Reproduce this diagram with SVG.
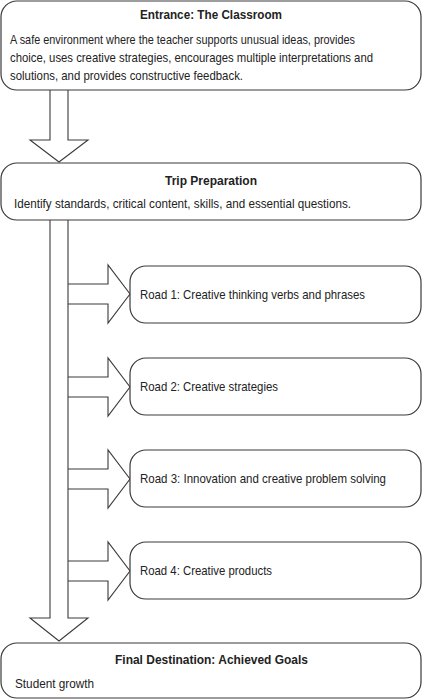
<svg xmlns="http://www.w3.org/2000/svg" width="423" height="700" viewBox="0 0 423 700">
<style>
.box{fill:#fff;stroke:#3a3a3a;stroke-width:1.2}
.arr{fill:none;stroke:#3a3a3a;stroke-width:1.1;stroke-linejoin:miter}
text{font-family:"Liberation Sans",Arial,sans-serif;font-size:13.5px;fill:#222}
.t{font-weight:bold;font-size:13px}
</style>
<rect width="423" height="700" fill="#fff"/>
<g id="connectors">
<path class="arr" d="M50,90 V140 H30 L59,162 L88,140 H68 V90"/>
<path class="arr" d="M50,220 V618 H30 L59,641 L88,618 H68 V220"/>
<path class="arr" d="M68,284 H108 V265 L130,294 L108,323 V304 H68"/>
<path class="arr" d="M68,377 H108 V358 L130,387 L108,416 V397 H68"/>
<path class="arr" d="M68,469 H108 V450 L130,479 L108,508 V489 H68"/>
<path class="arr" d="M68,561 H108 V542 L130,571 L108,600 V581 H68"/>
</g>
<g id="entrance">
<rect class="box" x="1" y="1" width="420" height="89" rx="16"/>
<text class="t" x="140" y="19" textLength="142" lengthAdjust="spacingAndGlyphs">Entrance: The Classroom</text>
<text x="10" y="44" textLength="345" lengthAdjust="spacingAndGlyphs">A safe environment where the teacher supports unusual ideas, provides</text>
<text x="10" y="62" textLength="363" lengthAdjust="spacingAndGlyphs">choice, uses creative strategies, encourages multiple interpretations and</text>
<text x="10" y="80" textLength="233" lengthAdjust="spacingAndGlyphs">solutions, and provides constructive feedback.</text>
</g>
<g id="trip">
<rect class="box" x="1" y="163" width="420" height="57" rx="16"/>
<text class="t" x="165" y="185" textLength="92" lengthAdjust="spacingAndGlyphs">Trip Preparation</text>
<text x="14" y="208" textLength="337" lengthAdjust="spacingAndGlyphs">Identify standards, critical content, skills, and essential questions.</text>
</g>
<g id="road1">
<rect class="box" x="130" y="266" width="291" height="57" rx="16"/>
<text x="140" y="299" textLength="225" lengthAdjust="spacingAndGlyphs">Road 1: Creative thinking verbs and phrases</text>
</g>
<g id="road2">
<rect class="box" x="130" y="358" width="291" height="57" rx="16"/>
<text x="140" y="391" textLength="138" lengthAdjust="spacingAndGlyphs">Road 2: Creative strategies</text>
</g>
<g id="road3">
<rect class="box" x="130" y="450" width="291" height="57" rx="16"/>
<text x="140" y="483" textLength="246" lengthAdjust="spacingAndGlyphs">Road 3: Innovation and creative problem solving</text>
</g>
<g id="road4">
<rect class="box" x="130" y="542" width="291" height="57" rx="16"/>
<text x="140" y="575" textLength="132" lengthAdjust="spacingAndGlyphs">Road 4: Creative products</text>
</g>
<g id="final">
<rect class="box" x="1" y="643" width="420" height="55" rx="16"/>
<text class="t" x="115" y="664" textLength="193" lengthAdjust="spacingAndGlyphs">Final Destination: Achieved Goals</text>
<text x="15" y="688" textLength="79" lengthAdjust="spacingAndGlyphs">Student growth</text>
</g>
</svg>
